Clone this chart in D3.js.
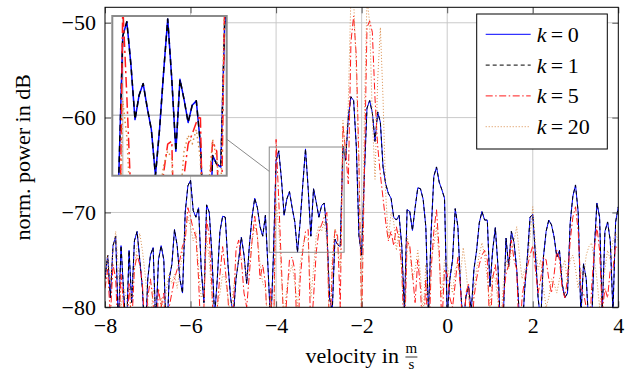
<!DOCTYPE html>
<html>
<head>
<meta charset="utf-8">
<script src="https://cdn.jsdelivr.net/npm/d3@7"></script>
<style>
  body { margin: 0; background: #fff; }
</style>
</head>
<body>
<div id="chart"></div>
<script>
// velocity grid: -8 ... 4 m/s in steps of 1/16
const X_START = -8, X_STEP = 0.0625;

// k = 0 (blue, solid)
const k0 = [
  -77, -74.5, -79, -73.5, -72.5, -82, -73.5, -78.5, -83, -74, -79.5, -73, -72, -75, -78, -84,
  -77, -74.5, -73.7, -82, -75, -73.5, -75, -84, -77, -75.5, -71.8, -73.5, -77, -78.5, -70, -67.2,
  -66.6, -69.8, -70.5, -69.5, -76, -79.5, -69.2, -70, -74.5, -81, -77, -72, -70.4, -70.5, -75.5, -79,
  -81, -77, -75, -72.6, -74.5, -77.5, -73.5, -70.5, -68.5, -69.5, -71.5, -72.5, -70.3, -76, -82, -74.5,
  -64.5, -63.5, -66.5, -70.3, -68.6, -67.8, -69.5, -71, -74.2, -71, -67, -63.3, -67.5, -72.5, -67.5, -68.9,
  -70.5, -69.3, -69, -72, -79, -80.5, -72.8, -73.4, -73.6, -63, -64.5, -60, -57.8, -58.2, -63, -72.5,
  -74.5, -66, -59, -58.2, -59.5, -62.5, -59.4, -60.5, -65.2, -67, -68, -68.5, -70.5, -70.8, -70.3, -73.5,
  -80.5, -69.7, -69.9, -71.9, -69.5, -67.4, -67.5, -68.6, -71.5, -81, -72, -66.2, -65.2, -66.8, -67.6, -68.5,
  -81, -77, -75, -69.6, -71.5, -78, -82, -78.9, -77.8, -80.5, -76, -74, -71.1, -69.9, -70.8, -70.8,
  -77.8, -74, -71.6, -75.7, -83, -81, -72.7, -75.7, -72, -73.2, -76, -81, -83, -78, -74.7, -70.5,
  -70.2, -74.5, -79, -81.5, -74.7, -72, -70.8, -71.3, -72.6, -74.7, -74, -77.5, -79, -78.5, -71.1, -68.3,
  -67.1, -70, -81, -75.4, -77, -82, -82, -74, -69, -70.5, -80.5, -72, -71, -73, -80.5, -71,
  -69.4
];

// k = 1 (black, dashed) - practically on top of k = 0
const k1 = [
  -77, -74.5, -79, -73.5, -72.5, -82, -73.5, -78.5, -83, -74, -79.5, -73, -72, -75, -78, -84,
  -77, -74.5, -73.7, -82, -75, -73.5, -75, -84, -77, -75.5, -71.8, -73.5, -77, -78.5, -70, -67.2,
  -66.6, -69.8, -70.5, -69.5, -76, -79.5, -69.2, -70, -74.5, -81, -77, -72, -70.4, -70.5, -75.5, -79,
  -81, -77, -75, -72.6, -74.5, -77.5, -73.5, -70.5, -68.5, -69.5, -71.5, -72.5, -70.3, -76, -82, -74.5,
  -64.5, -63.5, -66.5, -70.3, -68.6, -67.8, -69.5, -71, -74.2, -71, -67, -63.3, -67.5, -72.5, -67.5, -68.9,
  -70.5, -69.3, -69, -72, -79, -80.5, -72.8, -73.4, -73.6, -63, -64.5, -60, -57.8, -58.2, -63, -72.5,
  -74.5, -66, -59, -58.2, -59.5, -62.5, -59.4, -60.5, -65.2, -67, -68, -68.5, -70.5, -70.8, -70.3, -73.5,
  -80.5, -69.7, -69.9, -71.9, -69.5, -67.4, -67.5, -68.6, -71.5, -81, -72, -66.2, -65.2, -66.8, -67.6, -68.5,
  -81, -77, -75, -69.6, -71.5, -78, -82, -78.9, -77.8, -80.5, -76, -74, -71.1, -69.9, -70.8, -70.8,
  -77.8, -74, -71.6, -75.7, -83, -81, -72.7, -75.7, -72, -73.2, -76, -81, -83, -78, -74.7, -70.5,
  -70.2, -74.5, -79, -81.5, -74.7, -72, -70.8, -71.3, -72.6, -74.7, -74, -77.5, -79, -78.5, -71.1, -68.3,
  -67.1, -70, -81, -75.4, -77, -82, -82, -74, -69, -70.5, -80.5, -72, -71, -73, -80.5, -71,
  -69.4
];

// k = 5 (red, dashed)
const k5 = [
  -78, -76, -81, -75.5, -77, -84, -76.5, -80, -85, -77.5, -82, -76, -74.5, -75.5, -77.5, -83,
  -79, -77, -79.5, -85, -78, -80, -78.5, -86, -80, -78.5, -77, -76, -75, -73.5, -73, -69.5,
  -70.5, -71.8, -72.5, -77, -84, -80, -70.8, -72.5, -78, -86, -80, -76.5, -73.6, -76, -79, -84,
  -80, -74, -72.9, -75, -78.5, -80, -76.5, -73, -70.4, -72.5, -77, -75.5, -77.5, -84, -78, -86,
  -62.3, -68.7, -75.7, -83, -79, -75, -74.7, -76.1, -84, -77, -74, -72, -71.8, -83, -79, -74.2,
  -72, -71.3, -70.5, -70, -84, -76, -71.8, -72.5, -80, -60.8, -63.5, -67, -52, -49.3, -53.5, -64.8,
  -82, -66, -50.5, -49.8, -51, -58, -63, -66, -68.5, -71, -73, -72, -73.5, -71.5, -73, -76,
  -84, -73, -73.5, -76.5, -79.5, -75, -78, -84, -77, -85, -76, -72, -69.7, -74, -82, -76,
  -76.5, -79, -80, -77.5, -74.7, -78, -84, -78.5, -77.5, -84, -79, -77, -75.5, -74.5, -74, -75,
  -83, -77, -75.5, -78, -85, -79, -76.5, -75.5, -72.9, -75, -76, -84, -79, -77, -75.7, -74.5,
  -73.5, -76, -78.5, -77, -74.7, -75, -77, -78.5, -76.5, -74, -75, -78, -79, -77, -73, -70.5,
  -69.4, -72, -78, -78.5, -80, -85, -78, -74, -71.5, -74, -80.5, -78, -79, -76, -76, -73.5,
  -74
];

// k = 20 (orange, dotted)
const k20 = [
  -77, -74.5, -77.5, -74, -72, -76, -80, -78, -79, -81, -78.5, -76, -73.5, -72.2, -74, -76.5,
  -79.5, -82, -78, -80, -83, -79, -81, -78, -76.5, -77.5, -76.5, -78, -76, -74.5, -72, -70.5,
  -71.5, -73, -72, -76, -79, -78.5, -72.5, -75, -79, -82, -80, -78.5, -76.5, -77, -79, -81,
  -78, -76.5, -75, -74.7, -75, -77, -75.5, -73, -71.5, -72.5, -75.5, -77.5, -78, -82, -79, -83,
  -69, -71.5, -77, -81, -78, -76.5, -75.5, -77.5, -80, -75.5, -73.5, -72.5, -73, -79, -76, -72.5,
  -71.4, -72, -71, -73, -83, -75, -71.7, -73, -76, -60.3, -64, -58.5, -47, -47.5, -55, -66,
  -80, -60, -47.5, -50, -60, -66.5, -56, -50.5, -58, -68, -72.9, -70, -71, -74, -72, -76,
  -83, -72.5, -74, -77, -76, -74, -76.5, -81, -75.5, -82, -75, -73.5, -71.5, -75, -79, -75,
  -75.5, -77, -78.5, -76, -75.5, -76.5, -73.7, -76, -79, -81, -78, -76, -74.5, -73.2, -74.5, -77,
  -80, -76.5, -77, -79.5, -82, -77.5, -75, -76, -74, -73, -71.5, -74.5, -77, -76, -75.5, -72.5,
  -69.4, -73.5, -76, -75, -78, -80, -79, -77, -77.5, -78.5, -77, -76, -75, -77.5, -75, -74.5,
  -76, -78, -76, -77, -74.5, -73.6, -73.2, -75, -77, -80, -78, -76, -74, -75, -73, -72.2,
  -73
];

const X_TICKS = [-8, -6, -4, -2, 0, 2, 4];
const Y_TICKS = [-80, -70, -60, -50];
const K_LABELS = ['0', '1', '5', '20'];

// region that is magnified in the inset
const ZOOM_X = [-4.16, -2.41];
const ZOOM_Y = [-74.2, -63.1];

const FONT = "'Liberation Serif', serif";
const width = 635, height = 382;
const margin = { top: 7.3, right: 16.7, bottom: 74.7, left: 105 };
const W = width - margin.left - margin.right;
const H = height - margin.top - margin.bottom;

const styles = [
  { color: '#0000ff', dash: null },
  { color: '#000000', dash: [4, 3] },
  { color: '#ff1a1a', dash: [7, 2.5, 1.5, 2.5] },
  { color: '#d98c4a', dash: [1, 2] }
];
const series = [k0, k1, k5, k20].map((vals, s) => ({
  label: K_LABELS[s],
  points: vals.map((v, i) => [X_START + i * X_STEP, v]),
  ...styles[s]
}));

const svg = d3.select('#chart').append('svg')
  .attr('width', width)
  .attr('height', height)
  .attr('font-family', FONT);

const g = svg.append('g')
  .attr('transform', `translate(${margin.left},${margin.top})`);

const x = d3.scaleLinear().domain([-8, 4]).range([0, W]);
const y = d3.scaleLinear().domain([-80, -48.37]).range([H, 0]);

g.append('clipPath').attr('id', 'clip-main')
  .append('rect').attr('width', W).attr('height', H);

// grid
const grid = g.append('g');
grid.selectAll('.gx').data(X_TICKS.slice(1, -1)).join('line')
  .attr('x1', d => x(d)).attr('x2', d => x(d))
  .attr('y1', 0).attr('y2', H);
grid.selectAll('.gy').data(Y_TICKS.slice(1)).join('line')
  .attr('x1', 0).attr('x2', W)
  .attr('y1', d => y(d)).attr('y2', d => y(d));
grid.selectAll('line').attr('stroke', '#c4c4c4').attr('stroke-width', 0.9);

function drawSeries(parent, xs, ys, scale) {
  const line = d3.line().x(d => xs(d[0])).y(d => ys(d[1]));
  parent.selectAll('path.series').data(series).join('path')
    .attr('class', 'series')
    .attr('d', d => line(d.points))
    .attr('fill', 'none')
    .attr('stroke', d => d.color)
    .attr('stroke-width', 1 * scale)
    .attr('stroke-linejoin', 'round')
    .attr('stroke-dasharray', d => d.dash ? d.dash.map(v => v * scale).join(',') : null);
}

drawSeries(g.append('g').attr('clip-path', 'url(#clip-main)'), x, y, 1);

// spy rectangle in the main plot
const rx0 = x(ZOOM_X[0]), rx1 = x(ZOOM_X[1]);
const ry0 = y(ZOOM_Y[1]), ry1 = y(ZOOM_Y[0]);
g.append('rect')
  .attr('x', rx0).attr('y', ry0)
  .attr('width', rx1 - rx0).attr('height', ry1 - ry0)
  .attr('fill', 'none').attr('stroke', '#8a8a8a').attr('stroke-width', 1);

// inset box (magnified view)
const inset = { x: 7.3, y: 8.7, w: 114.4, h: 159.7 };
const ix = d3.scaleLinear().domain(ZOOM_X).range([inset.x, inset.x + inset.w]);
const iy = d3.scaleLinear().domain(ZOOM_Y).range([inset.y + inset.h, inset.y]);

// connector between the two boxes, along the line joining their centres
const c1 = [inset.x + inset.w / 2, inset.y + inset.h / 2];
const c2 = [(rx0 + rx1) / 2, (ry0 + ry1) / 2];
const dx = c2[0] - c1[0], dy = c2[1] - c1[1];
const t1 = Math.min(inset.w / 2 / Math.abs(dx), inset.h / 2 / Math.abs(dy));
const t2 = 1 - Math.min((rx1 - rx0) / 2 / Math.abs(dx), (ry1 - ry0) / 2 / Math.abs(dy));
g.append('line')
  .attr('x1', c1[0] + t1 * dx).attr('y1', c1[1] + t1 * dy)
  .attr('x2', c1[0] + t2 * dx).attr('y2', c1[1] + t2 * dy)
  .attr('stroke', '#8a8a8a').attr('stroke-width', 1);

g.append('clipPath').attr('id', 'clip-inset')
  .append('rect').attr('x', inset.x).attr('y', inset.y)
  .attr('width', inset.w).attr('height', inset.h);

const ig = g.append('g').attr('clip-path', 'url(#clip-inset)');
ig.append('rect').attr('x', inset.x).attr('y', inset.y)
  .attr('width', inset.w).attr('height', inset.h).attr('fill', '#fff');
ig.selectAll('.igx').data(X_TICKS.filter(v => v > ZOOM_X[0] && v < ZOOM_X[1])).join('line')
  .attr('x1', d => ix(d)).attr('x2', d => ix(d))
  .attr('y1', inset.y).attr('y2', inset.y + inset.h)
  .attr('stroke', '#c4c4c4').attr('stroke-width', 1.35);
ig.selectAll('.igy').data(Y_TICKS.filter(v => v > ZOOM_Y[0] && v < ZOOM_Y[1])).join('line')
  .attr('x1', inset.x).attr('x2', inset.x + inset.w)
  .attr('y1', d => iy(d)).attr('y2', d => iy(d))
  .attr('stroke', '#c4c4c4').attr('stroke-width', 1.35);
drawSeries(ig.append('g'), ix, iy, 1.5);
g.append('rect')
  .attr('x', inset.x).attr('y', inset.y)
  .attr('width', inset.w).attr('height', inset.h)
  .attr('fill', 'none').attr('stroke', '#8a8a8a').attr('stroke-width', 2);

// axes, ticks point inwards
const fmt = d3.format('d');
const tickStyle = sel => {
  sel.attr('font-family', FONT).attr('font-size', 22);
  sel.select('.domain').remove();
  sel.selectAll('.tick line').attr('stroke', '#333').attr('stroke-width', 0.8);
  sel.selectAll('.tick text').attr('fill', '#000');
};
g.append('g').attr('transform', `translate(0,${H})`)
  .call(d3.axisBottom(x).tickValues(X_TICKS).tickFormat(fmt).tickSize(-6).tickPadding(10))
  .call(tickStyle);
g.append('g')
  .call(d3.axisLeft(y).tickValues(Y_TICKS).tickFormat(fmt).tickSize(-6).tickPadding(9))
  .call(tickStyle);
g.append('g')
  .call(d3.axisTop(x).tickValues(X_TICKS).tickFormat('').tickSize(-6))
  .call(tickStyle);
g.append('g').attr('transform', `translate(${W},0)`)
  .call(d3.axisRight(y).tickValues(Y_TICKS).tickFormat('').tickSize(-6))
  .call(tickStyle);

g.append('rect').attr('width', W).attr('height', H)
  .attr('fill', 'none').attr('stroke', '#000').attr('stroke-width', 1);

// legend
const legend = svg.append('g').attr('transform', 'translate(476.7,14)');
legend.append('rect').attr('width', 130.6).attr('height', 135)
  .attr('fill', '#fff').attr('stroke', '#000').attr('stroke-width', 1);
const item = legend.selectAll('g.item').data(series).join('g')
  .attr('class', 'item')
  .attr('transform', (d, i) => `translate(0,${20.3 + i * 30.8})`);
item.append('line')
  .attr('x1', 9).attr('x2', 54)
  .attr('stroke', d => d.color).attr('stroke-width', 1)
  .attr('stroke-dasharray', d => d.dash ? d.dash.join(',') : null);
const lt = item.append('text').attr('x', 60).attr('y', 7.5)
  .attr('font-size', 22);
lt.append('tspan').attr('font-style', 'italic').text('k');
lt.append('tspan').text(d => '\u2009=\u2009' + d.label);

// axis labels
svg.append('text')
  .attr('transform', `translate(30,${margin.top + H / 2}) rotate(-90)`)
  .attr('text-anchor', 'middle')
  .attr('font-size', 22)
  .text('norm. power in dB');

const xl = svg.append('g');
const xlText = xl.append('text').attr('y', 363).attr('font-size', 22).text('velocity in');
const tw = xlText.node().getComputedTextLength();
const total = tw + 6 + 13;
const x0 = margin.left + W / 2 - total / 2;
xlText.attr('x', x0);
const fx = x0 + tw + 6 + 6.5;
xl.append('text').attr('x', fx).attr('y', 353).attr('text-anchor', 'middle')
  .attr('font-size', 15).text('m');
xl.append('line').attr('x1', fx - 6).attr('x2', fx + 6)
  .attr('y1', 357).attr('y2', 357).attr('stroke', '#000').attr('stroke-width', 0.8);
xl.append('text').attr('x', fx).attr('y', 369).attr('text-anchor', 'middle')
  .attr('font-size', 15).text('s');
</script>
</body>
</html>
